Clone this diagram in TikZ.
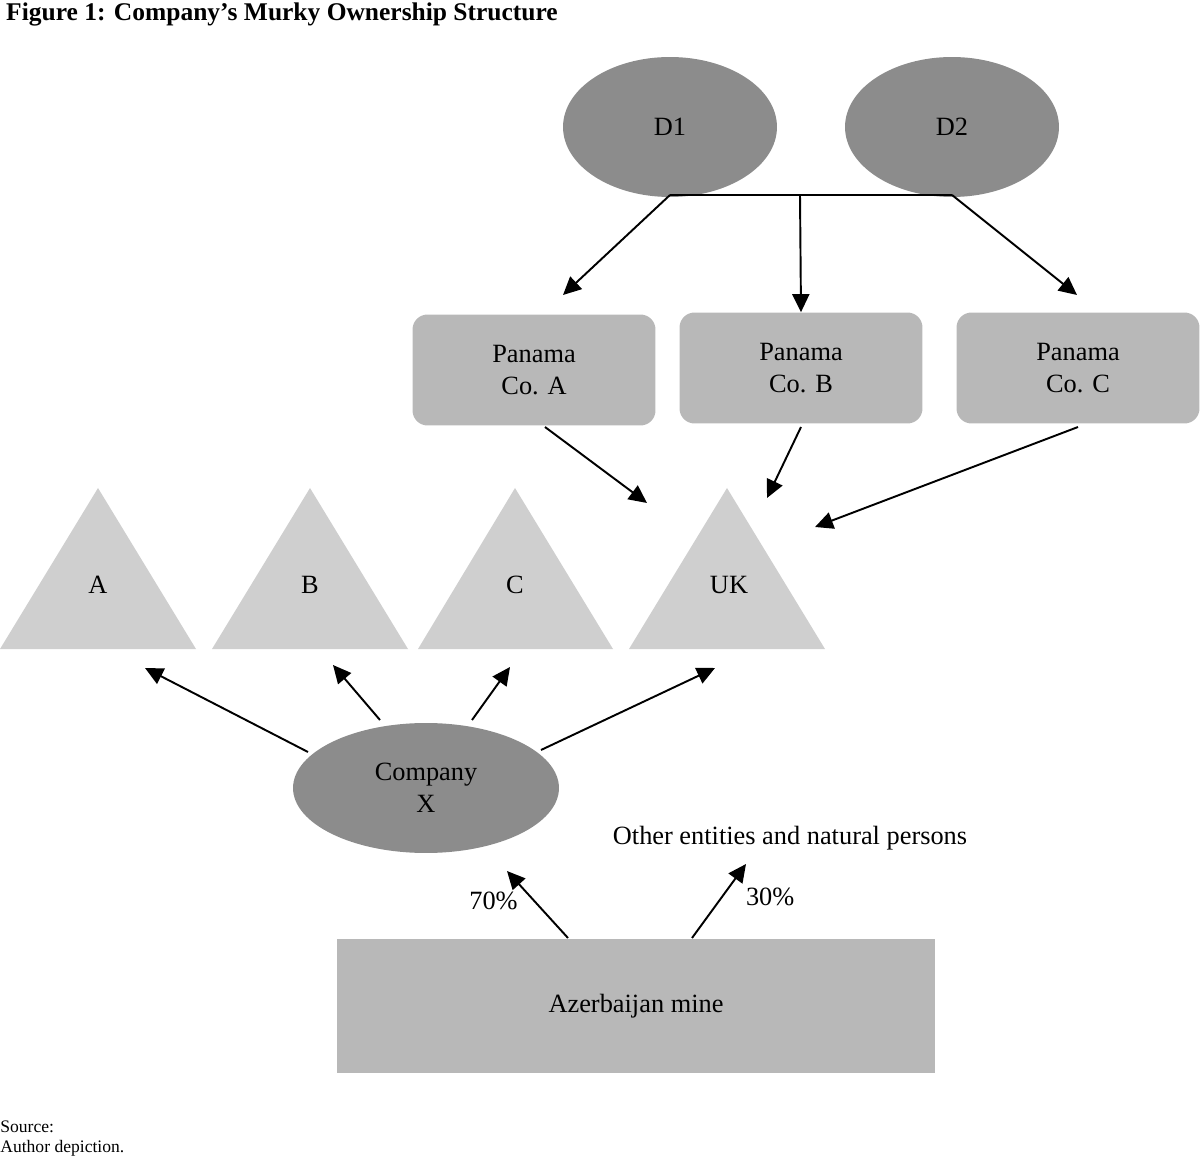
\documentclass[tikz,border=0pt]{standalone}
\usepackage{fontspec}
\setmainfont{Liberation Serif}
\usetikzlibrary{shapes,arrows.meta,positioning,calc}

\begin{document}
\begin{tikzpicture}[x=0.02cm,y=-0.02cm,
	arr/.style={-{Triangle[length=0.36cm,width=0.34cm]},line width=1.1pt},
	line/.style={line width=1.1pt},
	dark/.style={ellipse,fill=black!45,minimum width=4.28cm,minimum height=2.8cm,font=\fontsize{15}{18}\selectfont},
	pbox/.style={rectangle,rounded corners=0.3cm,fill=black!28,minimum width=4.86cm,minimum height=2.22cm,align=center,font=\fontsize{15}{18}\selectfont},
	tri/.style={fill=black!19},
	lbl/.style={font=\fontsize{15}{18}\selectfont}]

    \useasboundingbox (0,0) rectangle (1200,1158);
    \node (title) at (0,14) [anchor=west,font=\bfseries\fontsize{14.5}{17}\selectfont] {Figure 1: Company’s Murky Ownership Structure};

    % directors
    \node (D1) at (670,127) [dark] {D1};
    \node (D2) at (952,127) [dark] {D2};
    \coordinate (J1) at (670,195);
    \coordinate (J2) at (800,195);
    \coordinate (J3) at (952,195);
    \draw [line] (J1) -- (J3);

    % Panama companies
    \node (PA) at (534,370) [pbox] {Panama\\Co. A};
    \node (PB) at (801,368) [pbox] {Panama\\Co. B};
    \node (PC) at (1078,368) [pbox] {Panama\\Co. C};
    \draw [arr] (J1) -- (563,295);
    \draw [arr] (J2) -- (PB.north);
    \draw [arr] (J3) -- (1077,295);

    % subsidiaries
    \fill [tri] (98,488) -- (196,649) -- (0,649) -- cycle;
    \fill [tri] (310,488) -- (408,649) -- (212,649) -- cycle;
    \fill [tri] (515,488) -- (613,649) -- (418,649) -- cycle;
    \fill [tri] (727,488) -- (825,649) -- (629,649) -- cycle;
    \node (A) at (98,585) [lbl] {A};
    \node (B) at (310,585) [lbl] {B};
    \node (C) at (515,585) [lbl] {C};
    \node (UK) at (729,585) [lbl] {UK};
    \coordinate (UK1) at (647,503);
    \coordinate (UK2) at (767,498);
    \coordinate (UK3) at (815,527);
    \draw [arr] (545,427) -- (UK1);
    \draw [arr] (801,427) -- (UK2);
    \draw [arr] (1078,427) -- (UK3);

    % Company X
    \node (X) at (426,788) [dark,minimum width=5.32cm,minimum height=2.6cm,align=center] {Company\\X};
    \draw [arr] (308,752) -- (145,668);
    \draw [arr] (380,720) -- (333,665);
    \draw [arr] (472,720) -- (510,667);
    \draw [arr] (541,750) -- (715,668);

    \node (other) at (790,838) [lbl] {Other entities and natural persons};

    % mine
    \node (mine) at (636,1006) [rectangle,fill=black!28,minimum width=11.96cm,minimum height=2.7cm,lbl] {Azerbaijan mine};
    \draw [arr] (568,938) -- node [left,pos=.55,xshift=-0.2cm,lbl] {70\%} (507,871);
    \draw [arr] (692,938) -- node [right,pos=.55,xshift=0.35cm,lbl] {30\%} (746,864);

    \node (src) at (0,1127) [anchor=west,inner sep=0pt,font=\fontsize{10}{12}\selectfont] {Source:};
    \node (auth) at (0,1148) [anchor=west,inner sep=0pt,font=\fontsize{10}{12}\selectfont] {Author depiction.};

\end{tikzpicture}
\end{document}
